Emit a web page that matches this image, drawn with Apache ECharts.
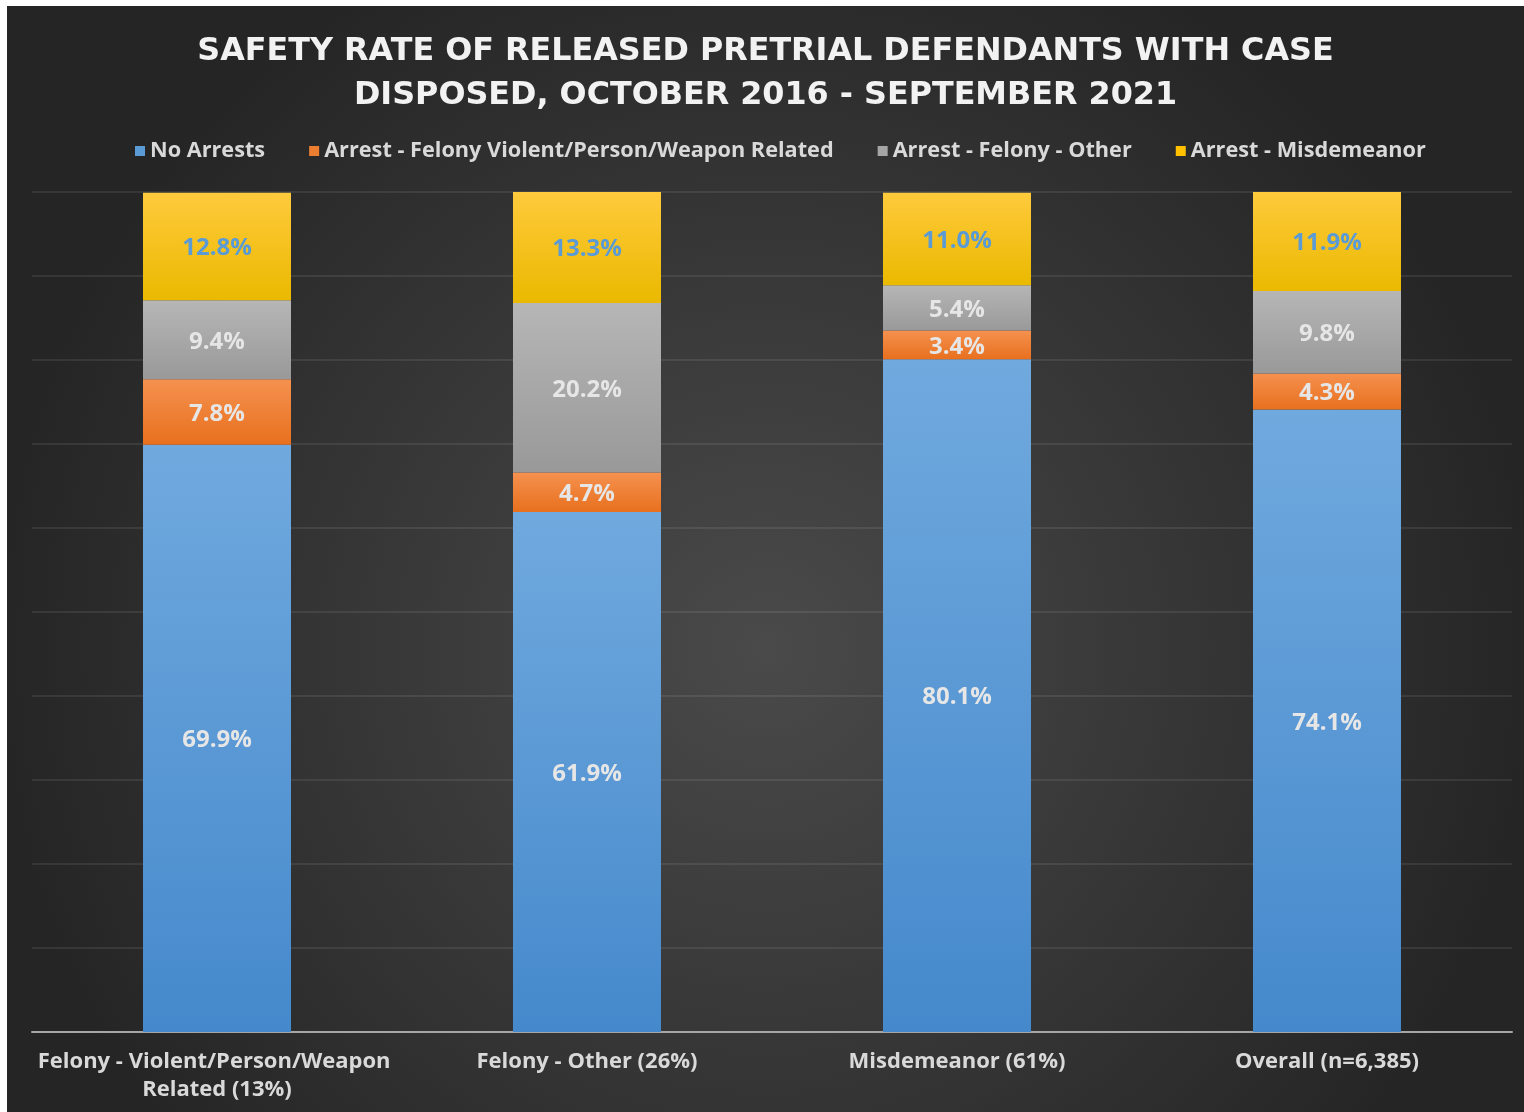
<!DOCTYPE html>
<html>
<head>
<meta charset="utf-8">
<script src="https://cdn.jsdelivr.net/npm/echarts@6/dist/echarts.min.js"></script>
<style>
  html, body { margin: 0; padding: 0; background: #ffffff; width: 1524px; height: 1112px; overflow: hidden; }
  #chart { position: absolute; left: 7px; top: 6px; width: 1517px; height: 1106px; }
</style>
</head>
<body>
<div id="chart"></div>
<script>
const categories = [
  'Felony - Violent/Person/Weapon Related (13%)',
  'Felony - Other (26%)',
  'Misdemeanor (61%)',
  'Overall (n=6,385)'
];
const noArrests = [69.9, 61.9, 80.1, 74.1];
const felonyViolent = [7.8, 4.7, 3.4, 4.3];
const felonyOther = [9.4, 20.2, 5.4, 9.8];
const misdemeanor = [12.8, 13.3, 11.0, 11.9];
const seriesNames = ['No Arrests', 'Arrest - Felony Violent/Person/Weapon Related', 'Arrest - Felony - Other', 'Arrest - Misdemeanor'];
const titleText = 'SAFETY RATE OF RELEASED PRETRIAL DEFENDANTS WITH CASE\nDISPOSED, OCTOBER 2016 - SEPTEMBER 2021';

const chart = echarts.init(document.getElementById('chart'));
function grad(top, bottom) {
  return new echarts.graphic.LinearGradient(0, 0, 0, 1, [
    { offset: 0, color: top }, { offset: 1, color: bottom }
  ]);
}
const styles = [
  { fill: grad('#70a9de', '#4589cc'), legend: '#5b9bd5', label: '#e6e6e6' },
  { fill: grad('#f5914f', '#e8701e'), legend: '#ed7d31', label: '#e6e6e6' },
  { fill: grad('#b6b6b6', '#999999'), legend: '#a5a5a5', label: '#e6e6e6' },
  { fill: grad('#ffca3c', '#eab900'), legend: '#ffc000', label: '#5b9bd5' }
];
const dataSets = [noArrests, felonyViolent, felonyOther, misdemeanor];
const font = '"Open Sans", Lato, sans-serif';

chart.setOption({
  backgroundColor: new echarts.graphic.RadialGradient(0.5, 0.58, 0.7, [
    { offset: 0, color: '#4a4a4a' },
    { offset: 1, color: '#252525' }
  ]),
  animation: false,
  title: {
    text: titleText,
    left: 'center',
    top: 19,
    textStyle: {
      color: '#f2f2f2',
      fontSize: 31.8,
      fontWeight: 'bold',
      fontFamily: '"DejaVu Sans", sans-serif',
      lineHeight: 44
    }
  },
  legend: {
    data: seriesNames.map((n, i) => ({ name: n, itemStyle: { color: styles[i].legend } })),
    left: 123,
    top: 129,
    icon: 'rect',
    itemWidth: 10,
    itemHeight: 10,
    itemGap: 44,
    textStyle: { color: '#d9d9d9', fontSize: 21.7, fontWeight: 'bold', fontFamily: font }
  },
  grid: { left: 25, right: 12, top: 186, bottom: 80, containLabel: false },
  xAxis: {
    type: 'category',
    data: categories,
    axisLine: { lineStyle: { color: '#a6a6a6', width: 2 } },
    axisTick: { show: false },
    axisLabel: {
      color: '#d9d9d9',
      fontSize: 22,
      fontWeight: 'bold',
      fontFamily: font,
      lineHeight: 28,
      margin: 16,
      width: 365,
      overflow: 'break',
      interval: 0
    }
  },
  yAxis: {
    type: 'value',
    min: 0,
    max: 100,
    interval: 10,
    axisLabel: { show: false },
    axisLine: { show: false },
    axisTick: { show: false },
    splitLine: { lineStyle: { color: 'rgba(255,255,255,0.11)', width: 1.5 } }
  },
  series: dataSets.map((d, i) => ({
    name: seriesNames[i],
    type: 'bar',
    stack: 'total',
    barWidth: 148,
    data: d,
    itemStyle: { color: styles[i].fill },
    label: {
      show: true,
      position: 'inside',
      offset: [0, 2],
      formatter: p => p.value.toFixed(1) + '%',
      color: styles[i].label,
      fontSize: 24,
      fontWeight: 'bold',
      fontFamily: font
    }
  }))
});
</script>
</body>
</html>
